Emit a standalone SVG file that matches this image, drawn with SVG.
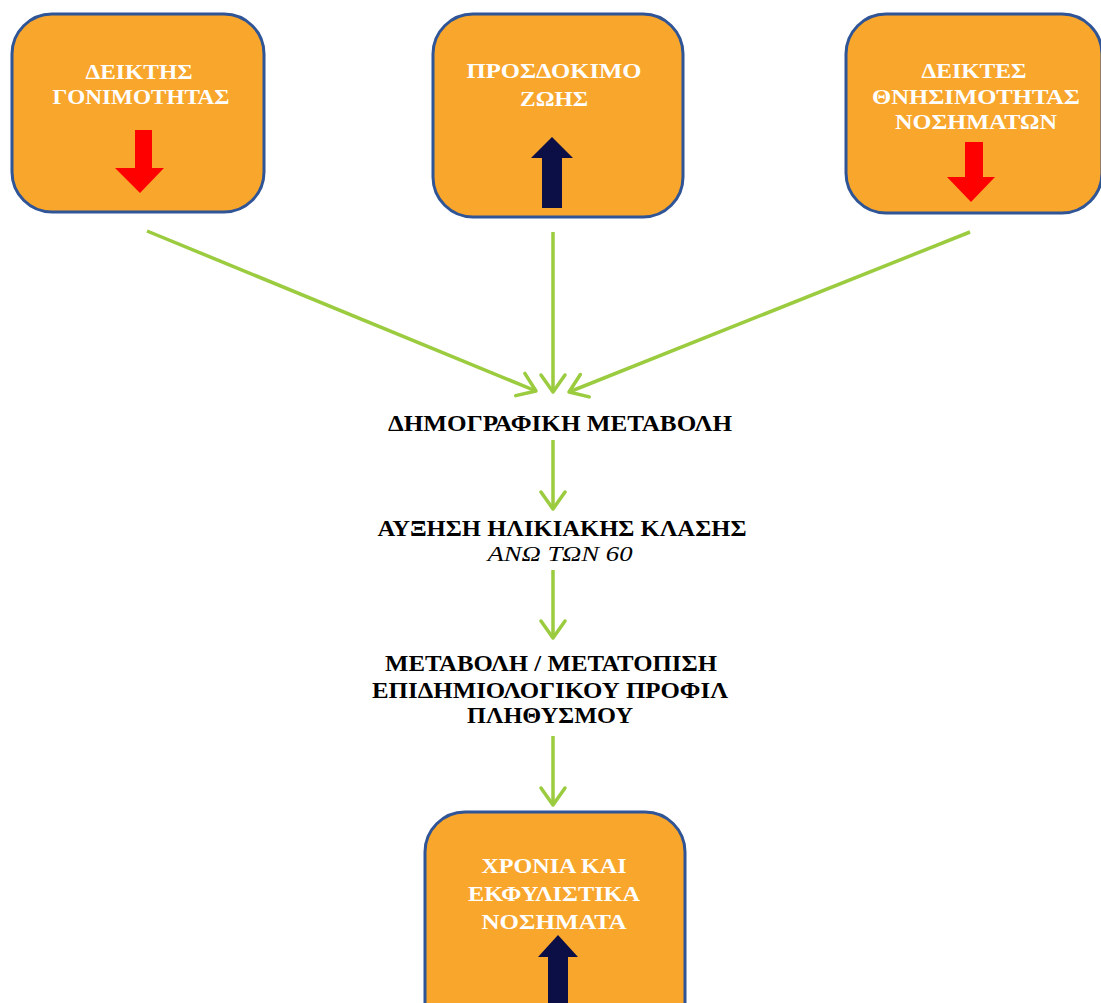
<svg xmlns="http://www.w3.org/2000/svg" width="1101" height="1003" viewBox="0 0 1101 1003">
  <style>
    .box { fill: #F9A62C; stroke: #2F5597; stroke-width: 3; }
    .wt { fill: #FFFFFF; font-family: "Liberation Serif", "Times New Roman", serif; font-weight: bold; font-size: 22px; text-anchor: middle; }
    .bt { fill: #000000; font-family: "Liberation Serif", "Times New Roman", serif; font-weight: bold; font-size: 23px; text-anchor: middle; }
    .it { fill: #000000; font-family: "Liberation Serif", "Times New Roman", serif; font-style: italic; font-size: 22px; text-anchor: middle; }
    .link { stroke: #9BCB3F; stroke-width: 3.5; fill: none; marker-end: url(#chev); }
    .down { fill: #FF0000; }
    .up { fill: #0C0F45; }
  </style>
  <defs>
    <marker id="chev" markerUnits="userSpaceOnUse" markerWidth="30" markerHeight="30" viewBox="-22 -15 26 30" refX="0" refY="0" orient="auto">
      <path d="M-17,-12 L0,0 L-17,12" fill="none" stroke="#9BCB3F" stroke-width="3.5" stroke-linecap="round" stroke-linejoin="round"/>
    </marker>
  </defs>
  <rect width="1101" height="1003" fill="#FFFFFF"/>

  <!-- top-left: fertility indicators -->
  <g id="node-fertility">
    <rect class="box" x="12" y="14" width="252" height="198" rx="40" ry="40"/>
    <text class="wt" x="139" y="79" textLength="107" lengthAdjust="spacingAndGlyphs">ΔΕΙΚΤΗΣ</text>
    <text class="wt" x="141" y="104" textLength="177" lengthAdjust="spacingAndGlyphs">ΓΟΝΙΜΟΤΗΤΑΣ</text>
    <polygon class="down" points="135,130 152,130 152,168 164,168 140,193 115,168 135,168"/>
  </g>

  <!-- top-centre: life expectancy -->
  <g id="node-life">
    <rect class="box" x="433" y="14" width="250" height="203" rx="40" ry="40"/>
    <text class="wt" x="554" y="78" textLength="175" lengthAdjust="spacingAndGlyphs">ΠΡΟΣΔΟΚΙΜΟ</text>
    <text class="wt" x="554" y="106" textLength="68" lengthAdjust="spacingAndGlyphs">ΖΩΗΣ</text>
    <polygon class="up" points="552,137 573,158 562,158 562,208 542,208 542,158 531,158"/>
  </g>

  <!-- top-right: disease mortality indicators -->
  <g id="node-mortality">
    <rect class="box" x="846" y="14" width="256" height="199" rx="40" ry="40"/>
    <text class="wt" x="974" y="78" textLength="105" lengthAdjust="spacingAndGlyphs">ΔΕΙΚΤΕΣ</text>
    <text class="wt" x="976" y="104" textLength="208" lengthAdjust="spacingAndGlyphs">ΘΝΗΣΙΜΟΤΗΤΑΣ</text>
    <text class="wt" x="976" y="129" textLength="162" lengthAdjust="spacingAndGlyphs">ΝΟΣΗΜΑΤΩΝ</text>
    <polygon class="down" points="965,142 983,142 983,177 995,177 971,202 947,177 965,177"/>
  </g>

  <!-- middle chain of plain-text steps -->
  <g id="node-demographic">
    <text class="bt" x="560" y="431" textLength="344" lengthAdjust="spacingAndGlyphs">ΔΗΜΟΓΡΑΦΙΚΗ ΜΕΤΑΒΟΛΗ</text>
  </g>
  <g id="node-age">
    <text class="bt" x="562" y="536" textLength="369" lengthAdjust="spacingAndGlyphs">ΑΥΞΗΣΗ ΗΛΙΚΙΑΚΗΣ  ΚΛΑΣΗΣ</text>
    <text class="it" x="560" y="561" textLength="145" lengthAdjust="spacingAndGlyphs">ΑΝΩ  ΤΩΝ 60</text>
  </g>
  <g id="node-epidemiology">
    <text class="bt" x="551" y="671" textLength="332" lengthAdjust="spacingAndGlyphs">ΜΕΤΑΒΟΛΗ / ΜΕΤΑΤΟΠΙΣΗ</text>
    <text class="bt" x="550" y="698" textLength="356" lengthAdjust="spacingAndGlyphs">ΕΠΙΔΗΜΙΟΛΟΓΙΚΟΥ ΠΡΟΦΙΛ</text>
    <text class="bt" x="550" y="723" textLength="166" lengthAdjust="spacingAndGlyphs">ΠΛΗΘΥΣΜΟΥ</text>
  </g>

  <!-- bottom: chronic and degenerative diseases -->
  <g id="node-chronic">
    <rect class="box" x="425" y="812" width="260" height="240" rx="40" ry="40"/>
    <text class="wt" x="554" y="873" textLength="145" lengthAdjust="spacingAndGlyphs">ΧΡΟΝΙΑ ΚΑΙ</text>
    <text class="wt" x="554" y="901" textLength="172" lengthAdjust="spacingAndGlyphs">ΕΚΦΥΛΙΣΤΙΚΑ</text>
    <text class="wt" x="554" y="929" textLength="145" lengthAdjust="spacingAndGlyphs">ΝΟΣΗΜΑΤΑ</text>
    <polygon class="up" points="558,935 578,957 568,957 568,1010 548,1010 548,957 538,957"/>
  </g>

  <g id="connectors">
    <line class="link" x1="147" y1="231" x2="536" y2="391"/>
    <line class="link" x1="553" y1="232" x2="553" y2="392"/>
    <line class="link" x1="970" y1="232" x2="569" y2="392"/>
    <line class="link" x1="553" y1="440" x2="553" y2="509"/>
    <line class="link" x1="553" y1="570" x2="553" y2="638"/>
    <line class="link" x1="553" y1="736" x2="553" y2="805"/>
  </g>
</svg>
